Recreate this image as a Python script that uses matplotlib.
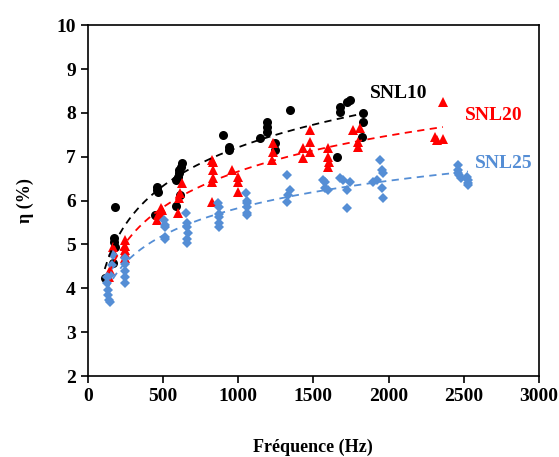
import numpy as np
import matplotlib
matplotlib.use("Agg")
import matplotlib.pyplot as plt

plt.rcParams['font.family'] = ['Liberation Serif', 'DejaVu Serif']
plt.rcParams['font.weight'] = 'bold'

# SNL10 (black circles)
f10 = [113, 166, 173, 175, 178, 180, 446, 459, 462, 465,
       585, 590, 600, 605, 610, 615, 620, 625, 898, 938, 942,
       1144, 1191, 1191, 1195, 1244, 1244, 1344, 1656, 1676, 1680,
       1723, 1743, 1830, 1830, 1823]
eta10 = [4.23, 4.58, 5.15, 5.05, 4.95, 5.85, 5.67, 6.31, 6.24, 6.20,
         5.88, 6.47, 6.54, 6.70, 6.62, 6.13, 6.77, 6.86, 7.49, 7.22, 7.15,
         7.42, 7.79, 7.68, 7.56, 7.31, 7.15, 8.06, 6.99, 8.13, 8.02,
         8.25, 8.29, 7.99, 7.79, 7.45]

# SNL20 (red triangles)
f20 = [140, 150, 166, 168, 246, 246, 246, 246, 246,
       460, 470, 480, 492, 485, 600, 610, 615, 625,
       825, 828, 830, 832, 832, 825, 958, 998, 998, 998,
       1231, 1231, 1225, 1430, 1430, 1477, 1477, 1477,
       1597, 1600, 1605, 1597, 1763, 1810, 1800, 1800,
       2362, 2308, 2320, 2362]
eta20 = [4.26, 4.42, 4.94, 4.85, 5.10, 4.97, 4.87, 4.80, 4.70,
         5.56, 5.67, 5.72, 5.78, 5.83, 5.72, 6.05, 6.17, 6.40,
         5.97, 6.42, 6.51, 6.70, 6.88, 6.92, 6.70, 6.54, 6.42, 6.20,
         7.31, 7.11, 6.92, 7.20, 6.97, 7.60, 7.34, 7.10,
         7.20, 6.99, 6.88, 6.76, 7.60, 7.65, 7.33, 7.22,
         8.25, 7.45, 7.38, 7.40]

# SNL25 (blue diamonds)
f25 = [126, 130, 133, 136, 140, 146, 160, 166, 150,
       246, 246, 246, 246, 246,
       505, 512, 512, 512, 515,
       655, 660, 660, 665, 660, 662,
       865, 870, 870, 873, 870, 875,
       1055, 1060, 1060, 1060, 1062, 1058,
       1324, 1344, 1330, 1324,
       1563, 1577, 1597, 1577,
       1676, 1696, 1743, 1723, 1723,
       1943, 1956, 1962, 1922, 1896, 1956, 1962,
       2461, 2461, 2465, 2470, 2480, 2521, 2528, 2528, 2528]
eta25 = [4.26, 4.12, 3.96, 3.85, 3.73, 3.69, 4.53, 4.76, 4.30,
         4.70, 4.55, 4.40, 4.25, 4.12,
         5.56, 5.44, 5.40, 5.17, 5.12,
         5.71, 5.50, 5.40, 5.26, 5.12, 5.03,
         5.94, 5.85, 5.70, 5.63, 5.50, 5.40,
         6.17, 6.00, 5.94, 5.85, 5.71, 5.67,
         6.58, 6.24, 6.12, 5.97,
         6.47, 6.29, 6.24, 6.42,
         6.51, 6.47, 6.42, 6.24, 5.83,
         6.92, 6.70, 6.63, 6.47, 6.42, 6.29, 6.06,
         6.81, 6.70, 6.63, 6.58, 6.51, 6.54, 6.47, 6.40, 6.35]

series = [
    ("SNL10", f10, eta10, "black", "o", 6.5),
    ("SNL20", f20, eta20, "#FF0000", "^", 7),
    ("SNL25", f25, eta25, "#558ED5", "D", 5),
]

fig = plt.figure(figsize=(5.59, 4.57), dpi=100)
ax = fig.add_axes([0.157, 0.177, 0.807, 0.768])

for name, f, eta, col, mk, ms in series:
    ax.plot(f, eta, linestyle='none', marker=mk, color=col, markersize=ms,
            markeredgewidth=0, zorder=2)

# logarithmic trend lines
for name, f, eta, col, mk, ms in series:
    f = np.array(f, dtype=float)
    a, b = np.polyfit(np.log(f), eta, 1)
    xs = np.linspace(f.min(), f.max(), 200)
    ax.plot(xs, a * np.log(xs) + b, '--', color=col, linewidth=1.3,
            dashes=(4, 3), zorder=3)

ax.text(1876, 8.45, "SNL10", color="black", fontsize=14, fontweight='bold', va='center')
ax.text(2508, 7.95, "SNL20", color="#FF0000", fontsize=14, fontweight='bold', va='center')
ax.text(2574, 6.85, "SNL25", color="#558ED5", fontsize=14, fontweight='bold', va='center')

ax.set_xlim(0, 3000)
ax.set_ylim(2, 10)
ax.set_xticks(np.arange(0, 3001, 500))
ax.set_yticks(np.arange(2, 11, 1))
ax.tick_params(direction='out', length=5, width=1.2, labelsize=14)
for lab in ax.get_xticklabels() + ax.get_yticklabels():
    lab.set_fontweight('bold')
for sp in ax.spines.values():
    sp.set_linewidth(1.2)

ax.set_xlabel("Fréquence (Hz)", fontsize=13, fontweight='bold', labelpad=24)
ax.set_ylabel("η (%)", fontsize=13, fontweight='bold', labelpad=16)

fig.savefig("out.png", dpi=100)
